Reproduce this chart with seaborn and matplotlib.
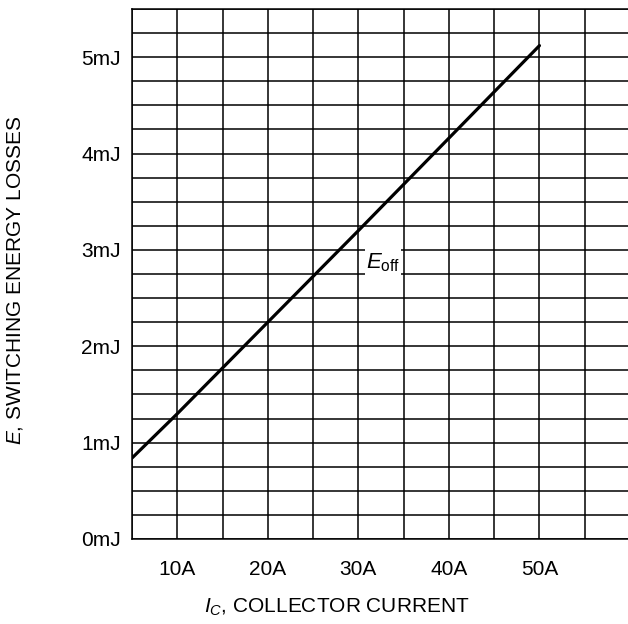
import numpy as np
import pandas as pd
import seaborn as sns
import matplotlib
matplotlib.use("Agg")
import matplotlib.pyplot as plt
from matplotlib.ticker import MultipleLocator
from matplotlib.patches import Rectangle

# E_off vs collector current
ic_amps = [5, 10, 20, 30, 40, 50]
e_off_mj = [0.84, 1.30, 2.25, 3.20, 4.16, 5.12]

x_ticks = [10, 20, 30, 40, 50]
x_tick_labels = ["10A", "20A", "30A", "40A", "50A"]
y_ticks = [0, 1, 2, 3, 4, 5]
y_tick_labels = ["0mJ", "1mJ", "2mJ", "3mJ", "4mJ", "5mJ"]

df = pd.DataFrame({"Ic": ic_amps, "E": e_off_mj})

sns.set_style("white")
plt.rcParams["font.family"] = ["Liberation Sans", "DejaVu Sans"]
plt.rcParams["mathtext.fontset"] = "custom"
plt.rcParams["mathtext.rm"] = "Liberation Sans"
plt.rcParams["mathtext.it"] = "Liberation Sans:italic"
plt.rcParams["text.color"] = "black"
plt.rcParams["xtick.color"] = "black"
plt.rcParams["ytick.color"] = "black"

fs = 15
fig = plt.figure(figsize=(6.28, 6.24), dpi=100)
ax = fig.add_axes([132 / 628, 85 / 624, 498 / 628, 530 / 624])

sns.lineplot(data=df, x="Ic", y="E", ax=ax, color="black", linewidth=2.3, zorder=5)

ax.set_xlim(5, 60)
ax.set_ylim(0, 5.5)
ax.set_xticks(x_ticks)
ax.set_xticklabels(x_tick_labels, fontsize=fs)
ax.set_yticks(y_ticks)
ax.set_yticklabels(y_tick_labels, fontsize=fs)
ax.xaxis.set_minor_locator(MultipleLocator(5))
ax.yaxis.set_minor_locator(MultipleLocator(0.25))
ax.grid(True, which="both", color="black", linewidth=1.1)
ax.set_axisbelow(True)
ax.tick_params(which="both", length=0)
ax.tick_params(axis="x", pad=15)
ax.tick_params(axis="y", pad=8)
for s in ax.spines.values():
    s.set_color("black")
    s.set_linewidth(1.1)
ax.set_xlabel("")
ax.set_ylabel("")

# white label box that breaks the horizontal grid lines
ax.add_patch(Rectangle((30.7, 2.71), 4.05, 0.33, facecolor="white",
                       edgecolor="none", zorder=4))
ax.text(32.75, 2.87, r"$E_{\mathrm{off}}$", fontsize=fs + 1, ha="center", va="center",
        zorder=6)

fig.text(337 / 628, 17 / 624, r"$I_C$, COLLECTOR CURRENT", fontsize=fs,
         ha="center", va="center")
fig.text(15 / 628, 344 / 624, r"$E$, SWITCHING ENERGY LOSSES", fontsize=fs,
         ha="center", va="center", rotation=90)

fig.savefig("out.png", dpi=100)
